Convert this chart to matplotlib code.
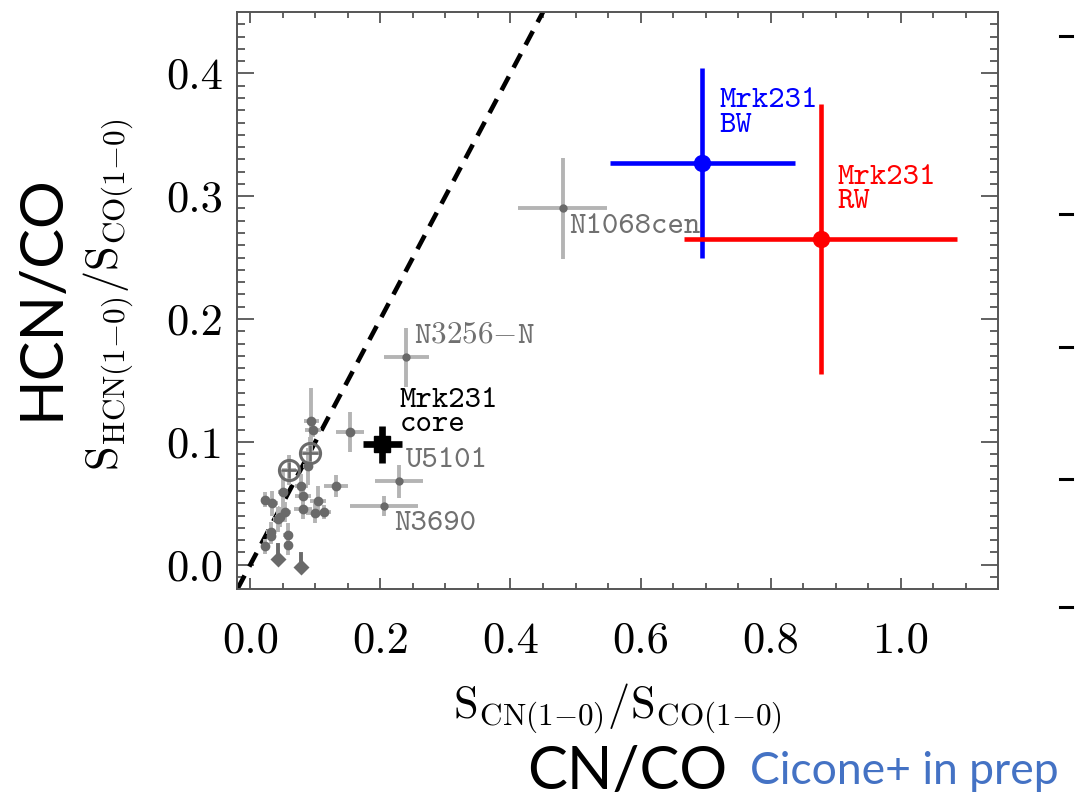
import matplotlib.pyplot as plt
from matplotlib.lines import Line2D

plt.rcParams['mathtext.fontset'] = 'cm'

# unlabelled comparison galaxies
samp_x = [0.094, 0.096, 0.089, 0.050, 0.078, 0.081, 0.022, 0.034, 0.104, 0.053,
          0.046, 0.081, 0.099, 0.114, 0.043, 0.032, 0.032, 0.058, 0.058, 0.022,
          0.132, 0.153]
samp_y = [0.117, 0.110, 0.080, 0.059, 0.064, 0.056, 0.053, 0.050, 0.052, 0.043,
          0.039, 0.045, 0.042, 0.043, 0.037, 0.027, 0.023, 0.024, 0.016, 0.015,
          0.064, 0.108]
samp_xerr = [0.012, 0.012, 0.008, 0.008, 0.010, 0.012, 0.006, 0.008, 0.012, 0.010,
             0.008, 0.014, 0.014, 0.010, 0.008, 0.008, 0.006, 0.008, 0.006, 0.006,
             0.018, 0.022]
samp_yerr = [0.027, 0.006, 0.015, 0.018, 0.010, 0.008, 0.006, 0.010, 0.012, 0.008,
             0.008, 0.008, 0.008, 0.006, 0.010, 0.008, 0.006, 0.010, 0.008, 0.006,
             0.009, 0.016]

# galaxies drawn as circled crosses
circ_x = [0.092, 0.059]
circ_y = [0.091, 0.077]
circ_xerr = [0.014, 0.011]
circ_yerr = [0.013, 0.012]

# upper limits on HCN/CO
lim_x = [0.0425, 0.078]
lim_y = [0.016, 0.009]

# labelled galaxies
named = ['N1068cen', r'$\mathtt{N3256{-}N}$', 'U5101', 'N3690']
named_x = [0.480, 0.240, 0.228, 0.206]
named_y = [0.290, 0.169, 0.068, 0.048]
named_xerr = [0.068, 0.035, 0.037, 0.052]
named_yerr = [0.041, 0.024, 0.0135, 0.008]
named_offset = [(5, -18), (5.5, 10.5), (5.5, 10.5), (7, -17.5)]

# Mrk231: core, blue wing, red wing
mrk_names = [['Mrk231', 'core'], ['Mrk231', 'BW'], ['Mrk231', 'RW']]
mrk_x = [0.203, 0.695, 0.877]
mrk_y = [0.098, 0.327, 0.265]
mrk_xerr = [0.030, 0.142, 0.210]
mrk_yerr = [0.015, 0.077, 0.110]
mrk_colors = ['black', 'blue', 'red']
mrk_offset = [(12.5, 27), (12.5, 40), (12, 40)]

xticks = [0.0, 0.2, 0.4, 0.6, 0.8, 1.0]
yticks = [0.0, 0.1, 0.2, 0.3, 0.4]

light = '#b4b4b4'
dark = '#6a6a6a'
txtgray = '#707070'
tt = 'cmtt10'

fig = plt.figure(figsize=(10.8, 7.97), dpi=100)
ax = fig.add_axes([0.2197, 0.2606, 0.7047, 0.7244])
ax.set_xlim(-0.02, 1.15)
ax.set_ylim(-0.02, 0.45)

# 1:1 line
ax.axline((0, 0), slope=1, color='black', lw=3.3, dashes=(3.4, 2.2), zorder=2)

# comparison sample
ax.errorbar(samp_x, samp_y, xerr=samp_xerr, yerr=samp_yerr, fmt='none',
            ecolor=light, elinewidth=2.8, capsize=0, zorder=3)
ax.errorbar(circ_x, circ_y, xerr=circ_xerr, yerr=circ_yerr, fmt='none',
            ecolor=light, elinewidth=2.8, capsize=0, zorder=3)
ax.errorbar(named_x, named_y, xerr=named_xerr, yerr=named_yerr, fmt='none',
            ecolor=light, elinewidth=2.8, capsize=0, zorder=3)
ax.plot(samp_x, samp_y, 'o', color=dark, ms=7, mec='none', zorder=4)
ax.plot(named_x, named_y, 'o', color=dark, ms=6, mec='none', zorder=4)
ax.plot(circ_x, circ_y, 'o', mfc='none', mec=dark, mew=2.2, ms=14.5, zorder=4)
ax.plot(circ_x, circ_y, '+', color=dark, ms=11, mew=1.8, zorder=4)

# upper limits: short arrow down to a diamond head
arrow = 0.011
for x, y in zip(lim_x, lim_y):
    ax.plot([x, x], [y, y - arrow], color=dark, lw=2.8, zorder=4)
    ax.plot([x], [y - arrow], 'D', color=dark, ms=8, mec='none', zorder=4)

for name, x, y, off in zip(named, named_x, named_y, named_offset):
    ax.annotate(name, (x, y), xytext=off, textcoords='offset points',
                fontsize=22.5, family=tt, color=txtgray, va='baseline', zorder=5)

# Mrk231 components
for i in range(3):
    lw = 4.8 if i == 0 else 3.3
    ax.errorbar(mrk_x[i], mrk_y[i], xerr=mrk_xerr[i], yerr=mrk_yerr[i],
                fmt='s' if i == 0 else 'o', color=mrk_colors[i],
                ms=12 if i == 0 else 11.5, elinewidth=lw, capsize=0, zorder=6)
    dx, dy = mrk_offset[i]
    for j, line in enumerate(mrk_names[i]):
        ax.annotate(line, (mrk_x[i], mrk_y[i]), xytext=(dx, dy - 17.5 * j),
                    textcoords='offset points', fontsize=22.5, family=tt,
                    color=mrk_colors[i], va='baseline', zorder=7)

# axes frame and ticks
for s in ax.spines.values():
    s.set_color('#555555')
    s.set_linewidth(1.4)
ax.set_xticks(xticks)
ax.set_yticks(yticks)
ax.set_xticks([i * 0.05 for i in range(24)], minor=True)
ax.set_yticks([i * 0.01 for i in range(-1, 45)], minor=True)
ax.set_xticklabels(['%.1f' % v for v in xticks], family='cmr10', fontsize=32)
ax.set_yticklabels(['%.1f' % v for v in yticks], family='cmr10', fontsize=32)
ax.tick_params(which='both', direction='in', top=True, right=True, color='#555555', width=1.3)
ax.tick_params(axis='x', which='major', length=8, pad=23)
ax.tick_params(axis='x', which='minor', length=4.5)
ax.tick_params(axis='y', which='major', length=12, pad=10)
ax.tick_params(axis='y', which='minor', length=6)

ax.set_xlabel(r'$\mathrm{S_{CN(1{-}0)}/S_{CO(1{-}0)}}$', fontsize=32)
ax.xaxis.set_label_coords(0.5, -0.16)
ax.set_ylabel(r'$\mathrm{S_{HCN(1{-}0)}/S_{CO(1{-}0)}}$', fontsize=32)
ax.yaxis.set_label_coords(-0.133, 0.51)

# slide annotations around the plot
fig.text(0.038, 0.627, 'HCN/CO', rotation=90, family='Lato', fontsize=43,
         ha='center', va='center')
fig.text(0.5806, 0.01, 'CN/CO', family='Lato', fontsize=43, ha='center', va='baseline')
fig.text(0.694, 0.016, 'Cicone+ in prep', family='Lato', fontsize=32,
         color='#4472c4', ha='left', va='baseline')
for ypx in [36, 214, 347, 479, 607]:
    yf = 1 - ypx / 797
    fig.add_artist(Line2D([1060 / 1080, 1072 / 1080], [yf, yf], color='black', lw=2.2))

fig.savefig('out.png', dpi=100)
